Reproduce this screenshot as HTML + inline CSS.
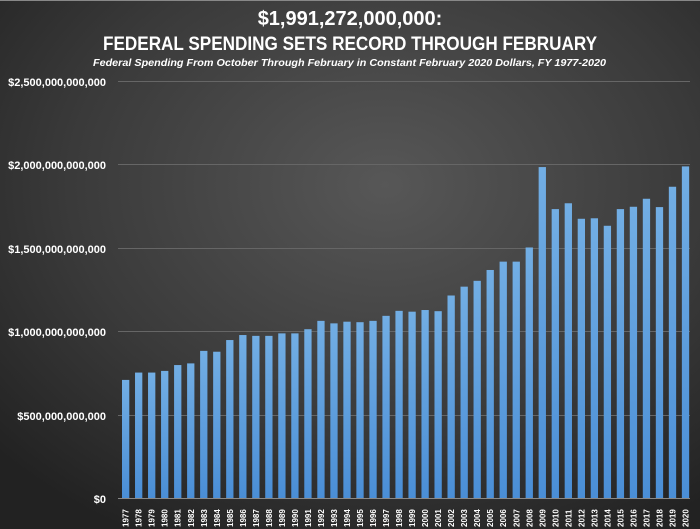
<!DOCTYPE html>
<html><head><meta charset="utf-8"><style>
html,body{margin:0;padding:0;background:#2a2a2a}
svg{display:block}
text{font-family:"Liberation Sans",sans-serif;fill:#fff}
</style></head><body>
<svg width="700" height="529" viewBox="0 0 700 529" xmlns="http://www.w3.org/2000/svg">
<defs>
<radialGradient id="bg" cx="0.55" cy="0.35" r="0.75">
<stop offset="0" stop-color="#575757"/>
<stop offset="0.6" stop-color="#3a3a3a"/>
<stop offset="1" stop-color="#222"/>
</radialGradient>
<linearGradient id="bar" x1="0" y1="0" x2="0" y2="1">
<stop offset="0" stop-color="#72aee4"/>
<stop offset="1" stop-color="#4a8ed6"/>
</linearGradient>
</defs>
<rect width="700" height="529" fill="url(#bg)"/>
<rect width="700" height="1" fill="#888"/>
<text x="350" y="25" text-anchor="middle" font-size="20" font-weight="bold">$1,991,272,000,000:</text>
<text x="103" y="50" font-size="19" font-weight="bold" textLength="494" lengthAdjust="spacingAndGlyphs">FEDERAL SPENDING SETS RECORD THROUGH FEBRUARY</text>
<text x="93" y="66" font-size="10" font-style="italic" font-weight="bold" textLength="513" lengthAdjust="spacingAndGlyphs">Federal Spending From October Through February in Constant February 2020 Dollars, FY 1977-2020</text>
<g stroke="#666" stroke-width="1">
<line x1="118" y1="81.5" x2="690" y2="81.5"/>
<line x1="118" y1="164.5" x2="690" y2="164.5"/>
<line x1="118" y1="248.5" x2="690" y2="248.5"/>
<line x1="118" y1="331.5" x2="690" y2="331.5"/>
<line x1="118" y1="415.5" x2="690" y2="415.5"/>
</g>
<g font-size="11" font-weight="bold" text-anchor="end">
<text x="106" y="86">$2,500,000,000,000</text>
<text x="106" y="169">$2,000,000,000,000</text>
<text x="106" y="253">$1,500,000,000,000</text>
<text x="106" y="336">$1,000,000,000,000</text>
<text x="106" y="420">$500,000,000,000</text>
<text x="106" y="503">$0</text>
</g>
<g fill="url(#bar)">
<rect x="122.00" y="379.91" width="7.3" height="118.59"/>
<rect x="135.02" y="372.57" width="7.3" height="125.93"/>
<rect x="148.04" y="372.57" width="7.3" height="125.93"/>
<rect x="161.06" y="370.90" width="7.3" height="127.60"/>
<rect x="174.08" y="365.06" width="7.3" height="133.44"/>
<rect x="187.10" y="363.39" width="7.3" height="135.11"/>
<rect x="200.12" y="350.88" width="7.3" height="147.62"/>
<rect x="213.14" y="351.72" width="7.3" height="146.78"/>
<rect x="226.16" y="340.04" width="7.3" height="158.46"/>
<rect x="239.18" y="335.04" width="7.3" height="163.46"/>
<rect x="252.20" y="335.87" width="7.3" height="162.63"/>
<rect x="265.22" y="335.87" width="7.3" height="162.63"/>
<rect x="278.24" y="333.37" width="7.3" height="165.13"/>
<rect x="291.26" y="333.37" width="7.3" height="165.13"/>
<rect x="304.28" y="329.20" width="7.3" height="169.30"/>
<rect x="317.30" y="320.86" width="7.3" height="177.64"/>
<rect x="330.32" y="323.36" width="7.3" height="175.14"/>
<rect x="343.34" y="321.69" width="7.3" height="176.81"/>
<rect x="356.36" y="322.19" width="7.3" height="176.31"/>
<rect x="369.38" y="320.86" width="7.3" height="177.64"/>
<rect x="382.40" y="315.85" width="7.3" height="182.65"/>
<rect x="395.42" y="310.85" width="7.3" height="187.65"/>
<rect x="408.44" y="311.68" width="7.3" height="186.82"/>
<rect x="421.46" y="310.02" width="7.3" height="188.48"/>
<rect x="434.48" y="311.18" width="7.3" height="187.32"/>
<rect x="447.50" y="295.50" width="7.3" height="203.00"/>
<rect x="460.52" y="286.66" width="7.3" height="211.84"/>
<rect x="473.54" y="280.83" width="7.3" height="217.67"/>
<rect x="486.56" y="269.98" width="7.3" height="228.52"/>
<rect x="499.58" y="261.64" width="7.3" height="236.86"/>
<rect x="512.60" y="261.64" width="7.3" height="236.86"/>
<rect x="525.62" y="247.47" width="7.3" height="251.03"/>
<rect x="538.64" y="167.07" width="7.3" height="331.43"/>
<rect x="551.66" y="209.10" width="7.3" height="289.40"/>
<rect x="564.68" y="203.26" width="7.3" height="295.24"/>
<rect x="577.70" y="218.78" width="7.3" height="279.72"/>
<rect x="590.72" y="218.28" width="7.3" height="280.22"/>
<rect x="603.74" y="225.78" width="7.3" height="272.72"/>
<rect x="616.76" y="209.10" width="7.3" height="289.40"/>
<rect x="629.78" y="206.77" width="7.3" height="291.73"/>
<rect x="642.80" y="198.76" width="7.3" height="299.74"/>
<rect x="655.82" y="207.10" width="7.3" height="291.40"/>
<rect x="668.84" y="186.75" width="7.3" height="311.75"/>
<rect x="681.86" y="166.40" width="7.3" height="332.10"/>
</g>
<line x1="118" y1="498.5" x2="690" y2="498.5" stroke="#888"/>
<g font-size="8" font-weight="bold">
<text transform="translate(128.65,527) rotate(-90)">1977</text>
<text transform="translate(141.67,527) rotate(-90)">1978</text>
<text transform="translate(154.69,527) rotate(-90)">1979</text>
<text transform="translate(167.71,527) rotate(-90)">1980</text>
<text transform="translate(180.73,527) rotate(-90)">1981</text>
<text transform="translate(193.75,527) rotate(-90)">1982</text>
<text transform="translate(206.77,527) rotate(-90)">1983</text>
<text transform="translate(219.79,527) rotate(-90)">1984</text>
<text transform="translate(232.81,527) rotate(-90)">1985</text>
<text transform="translate(245.83,527) rotate(-90)">1986</text>
<text transform="translate(258.85,527) rotate(-90)">1987</text>
<text transform="translate(271.87,527) rotate(-90)">1988</text>
<text transform="translate(284.89,527) rotate(-90)">1989</text>
<text transform="translate(297.91,527) rotate(-90)">1990</text>
<text transform="translate(310.93,527) rotate(-90)">1991</text>
<text transform="translate(323.95,527) rotate(-90)">1992</text>
<text transform="translate(336.97,527) rotate(-90)">1993</text>
<text transform="translate(349.99,527) rotate(-90)">1994</text>
<text transform="translate(363.01,527) rotate(-90)">1995</text>
<text transform="translate(376.03,527) rotate(-90)">1996</text>
<text transform="translate(389.05,527) rotate(-90)">1997</text>
<text transform="translate(402.07,527) rotate(-90)">1998</text>
<text transform="translate(415.09,527) rotate(-90)">1999</text>
<text transform="translate(428.11,527) rotate(-90)">2000</text>
<text transform="translate(441.13,527) rotate(-90)">2001</text>
<text transform="translate(454.15,527) rotate(-90)">2002</text>
<text transform="translate(467.17,527) rotate(-90)">2003</text>
<text transform="translate(480.19,527) rotate(-90)">2004</text>
<text transform="translate(493.21,527) rotate(-90)">2005</text>
<text transform="translate(506.23,527) rotate(-90)">2006</text>
<text transform="translate(519.25,527) rotate(-90)">2007</text>
<text transform="translate(532.27,527) rotate(-90)">2008</text>
<text transform="translate(545.29,527) rotate(-90)">2009</text>
<text transform="translate(558.31,527) rotate(-90)">2010</text>
<text transform="translate(571.33,527) rotate(-90)">2011</text>
<text transform="translate(584.35,527) rotate(-90)">2012</text>
<text transform="translate(597.37,527) rotate(-90)">2013</text>
<text transform="translate(610.39,527) rotate(-90)">2014</text>
<text transform="translate(623.41,527) rotate(-90)">2015</text>
<text transform="translate(636.43,527) rotate(-90)">2016</text>
<text transform="translate(649.45,527) rotate(-90)">2017</text>
<text transform="translate(662.47,527) rotate(-90)">2018</text>
<text transform="translate(675.49,527) rotate(-90)">2019</text>
<text transform="translate(688.51,527) rotate(-90)">2020</text>
</g>
</svg>
</body></html>
